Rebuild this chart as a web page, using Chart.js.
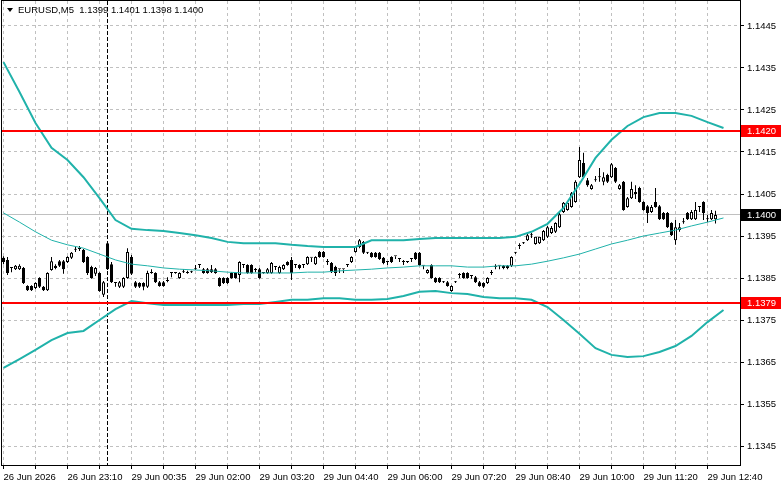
<!DOCTYPE html>
<html>
<head>
<meta charset="utf-8">
<script src="https://cdn.jsdelivr.net/npm/chart.js@4.4.1/dist/chart.umd.min.js"></script>
<style>
  html, body { margin: 0; padding: 0; background: #fff; }
  canvas { display: block; }
</style>
</head>
<body>
<canvas id="chart" width="781" height="489"></canvas>
<script>
// EURUSD M5 candles, one per bar: [open, high, low, close]
const candles = [
  [1.13898, 1.13902, 1.13883, 1.13888], [1.13893, 1.13900, 1.13857, 1.13862], [1.13874, 1.13876, 1.13864, 1.13874], [1.13871, 1.13881, 1.13869, 1.13879],
  [1.13871, 1.13883, 1.13869, 1.13879], [1.13874, 1.13876, 1.13836, 1.13838], [1.13831, 1.13833, 1.13819, 1.13821], [1.13831, 1.13833, 1.13819, 1.13821],
  [1.13826, 1.13840, 1.13824, 1.13838], [1.13850, 1.13852, 1.13826, 1.13829], [1.13829, 1.13831, 1.13819, 1.13821], [1.13821, 1.13864, 1.13819, 1.13862],
  [1.13869, 1.13900, 1.13867, 1.13890], [1.13879, 1.13883, 1.13871, 1.13874], [1.13890, 1.13893, 1.13876, 1.13879], [1.13890, 1.13893, 1.13860, 1.13871],
  [1.13888, 1.13902, 1.13886, 1.13900], [1.13898, 1.13912, 1.13895, 1.13910], [1.13917, 1.13924, 1.13912, 1.13919], [1.13919, 1.13926, 1.13914, 1.13919],
  [1.13917, 1.13919, 1.13886, 1.13888], [1.13900, 1.13902, 1.13857, 1.13862], [1.13876, 1.13879, 1.13848, 1.13850], [1.13860, 1.13876, 1.13855, 1.13874],
  [1.13862, 1.13864, 1.13817, 1.13819], [1.13810, 1.13843, 1.13805, 1.13840], [1.13933, 1.13936, 1.13869, 1.13871], [1.13883, 1.13888, 1.13838, 1.13840],
  [1.13838, 1.13838, 1.13829, 1.13838], [1.13829, 1.13843, 1.13826, 1.13840], [1.13829, 1.13852, 1.13826, 1.13850], [1.13850, 1.13921, 1.13848, 1.13912],
  [1.13900, 1.13905, 1.13857, 1.13860], [1.13840, 1.13843, 1.13826, 1.13829], [1.13838, 1.13840, 1.13826, 1.13829], [1.13838, 1.13840, 1.13821, 1.13829],
  [1.13829, 1.13867, 1.13826, 1.13862], [1.13862, 1.13871, 1.13860, 1.13862], [1.13862, 1.13864, 1.13838, 1.13840], [1.13840, 1.13843, 1.13829, 1.13831],
  [1.13840, 1.13843, 1.13829, 1.13831], [1.13843, 1.13852, 1.13840, 1.13843], [1.13862, 1.13864, 1.13852, 1.13862], [1.13862, 1.13864, 1.13860, 1.13862],
  [1.13850, 1.13864, 1.13848, 1.13862], [1.13864, 1.13871, 1.13862, 1.13864], [1.13864, 1.13867, 1.13860, 1.13862], [1.13864, 1.13867, 1.13862, 1.13864],
  [1.13871, 1.13881, 1.13869, 1.13871], [1.13881, 1.13881, 1.13874, 1.13881], [1.13871, 1.13874, 1.13860, 1.13862], [1.13871, 1.13874, 1.13860, 1.13862],
  [1.13871, 1.13881, 1.13862, 1.13864], [1.13871, 1.13874, 1.13860, 1.13862], [1.13850, 1.13852, 1.13829, 1.13831], [1.13850, 1.13852, 1.13836, 1.13838],
  [1.13850, 1.13852, 1.13836, 1.13838], [1.13862, 1.13864, 1.13848, 1.13850], [1.13862, 1.13864, 1.13848, 1.13850], [1.13857, 1.13890, 1.13840, 1.13888],
  [1.13881, 1.13881, 1.13874, 1.13881], [1.13881, 1.13883, 1.13860, 1.13862], [1.13881, 1.13883, 1.13860, 1.13862], [1.13869, 1.13874, 1.13864, 1.13869],
  [1.13871, 1.13874, 1.13848, 1.13850], [1.13862, 1.13864, 1.13860, 1.13862], [1.13862, 1.13874, 1.13860, 1.13871], [1.13862, 1.13888, 1.13860, 1.13886],
  [1.13876, 1.13876, 1.13869, 1.13876], [1.13862, 1.13879, 1.13860, 1.13876], [1.13871, 1.13883, 1.13869, 1.13881], [1.13888, 1.13890, 1.13879, 1.13881],
  [1.13893, 1.13900, 1.13845, 1.13862], [1.13881, 1.13881, 1.13874, 1.13881], [1.13881, 1.13883, 1.13871, 1.13874], [1.13881, 1.13881, 1.13874, 1.13881],
  [1.13883, 1.13902, 1.13881, 1.13900], [1.13898, 1.13898, 1.13888, 1.13898], [1.13883, 1.13902, 1.13881, 1.13900], [1.13912, 1.13914, 1.13898, 1.13900],
  [1.13912, 1.13914, 1.13898, 1.13900], [1.13888, 1.13895, 1.13881, 1.13888], [1.13886, 1.13888, 1.13862, 1.13864], [1.13876, 1.13879, 1.13855, 1.13862],
  [1.13871, 1.13871, 1.13862, 1.13871], [1.13871, 1.13871, 1.13862, 1.13871], [1.13881, 1.13881, 1.13876, 1.13881], [1.13888, 1.13902, 1.13886, 1.13900],
  [1.13912, 1.13926, 1.13910, 1.13924], [1.13924, 1.13943, 1.13921, 1.13940], [1.13936, 1.13938, 1.13907, 1.13910], [1.13910, 1.13912, 1.13907, 1.13910],
  [1.13910, 1.13912, 1.13898, 1.13900], [1.13910, 1.13912, 1.13898, 1.13900], [1.13910, 1.13912, 1.13893, 1.13895], [1.13898, 1.13900, 1.13883, 1.13886],
  [1.13888, 1.13888, 1.13881, 1.13888], [1.13900, 1.13902, 1.13886, 1.13888], [1.13902, 1.13902, 1.13895, 1.13902], [1.13895, 1.13895, 1.13888, 1.13895],
  [1.13888, 1.13893, 1.13881, 1.13888], [1.13888, 1.13890, 1.13886, 1.13888], [1.13895, 1.13895, 1.13888, 1.13895], [1.13910, 1.13912, 1.13893, 1.13895],
  [1.13910, 1.13912, 1.13879, 1.13881], [1.13879, 1.13879, 1.13871, 1.13879], [1.13862, 1.13871, 1.13860, 1.13869], [1.13881, 1.13883, 1.13848, 1.13850],
  [1.13850, 1.13852, 1.13838, 1.13840], [1.13850, 1.13852, 1.13838, 1.13840], [1.13840, 1.13843, 1.13838, 1.13840], [1.13840, 1.13843, 1.13829, 1.13831],
  [1.13819, 1.13833, 1.13817, 1.13831], [1.13840, 1.13843, 1.13838, 1.13840], [1.13857, 1.13862, 1.13850, 1.13857], [1.13862, 1.13864, 1.13848, 1.13850],
  [1.13862, 1.13864, 1.13848, 1.13850], [1.13855, 1.13855, 1.13848, 1.13855], [1.13852, 1.13855, 1.13838, 1.13840], [1.13840, 1.13843, 1.13829, 1.13831],
  [1.13838, 1.13840, 1.13826, 1.13829], [1.13838, 1.13852, 1.13836, 1.13850], [1.13862, 1.13869, 1.13857, 1.13862], [1.13876, 1.13883, 1.13871, 1.13876],
  [1.13879, 1.13879, 1.13871, 1.13879], [1.13879, 1.13881, 1.13871, 1.13874], [1.13879, 1.13881, 1.13871, 1.13874], [1.13879, 1.13902, 1.13876, 1.13900],
  [1.13910, 1.13912, 1.13907, 1.13910], [1.13926, 1.13933, 1.13919, 1.13926], [1.13933, 1.13936, 1.13931, 1.13933], [1.13940, 1.13955, 1.13938, 1.13952],
  [1.13952, 1.13957, 1.13945, 1.13952], [1.13931, 1.13948, 1.13929, 1.13948], [1.13933, 1.13948, 1.13931, 1.13948], [1.13940, 1.13964, 1.13938, 1.13962],
  [1.13948, 1.13974, 1.13945, 1.13971], [1.13957, 1.13974, 1.13955, 1.13969], [1.13960, 1.13983, 1.13957, 1.13981], [1.13971, 1.14005, 1.13969, 1.14002],
  [1.14007, 1.14031, 1.14005, 1.14029], [1.14012, 1.14033, 1.14010, 1.14029], [1.14019, 1.14055, 1.14017, 1.14052], [1.14031, 1.14083, 1.14029, 1.14079],
  [1.14090, 1.14162, 1.14088, 1.14131], [1.14124, 1.14148, 1.14088, 1.14090], [1.14083, 1.14088, 1.14067, 1.14071], [1.14062, 1.14074, 1.14060, 1.14071],
  [1.14083, 1.14093, 1.14079, 1.14083], [1.14090, 1.14112, 1.14079, 1.14090], [1.14079, 1.14102, 1.14071, 1.14090], [1.14095, 1.14098, 1.14076, 1.14079],
  [1.14090, 1.14124, 1.14088, 1.14121], [1.14112, 1.14114, 1.14076, 1.14079], [1.14062, 1.14074, 1.14060, 1.14071], [1.14079, 1.14081, 1.14010, 1.14012],
  [1.14019, 1.14043, 1.14017, 1.14040], [1.14040, 1.14079, 1.14038, 1.14062], [1.14055, 1.14071, 1.14038, 1.14050], [1.14064, 1.14067, 1.14029, 1.14031],
  [1.14031, 1.14033, 1.14010, 1.14012], [1.14021, 1.14024, 1.13981, 1.14005], [1.14007, 1.14024, 1.14005, 1.14019], [1.14031, 1.14064, 1.14017, 1.14019],
  [1.14021, 1.14024, 1.13988, 1.13990], [1.14005, 1.14007, 1.13988, 1.13990], [1.14005, 1.14007, 1.13969, 1.13971], [1.13981, 1.13983, 1.13950, 1.13952],
  [1.13940, 1.13988, 1.13929, 1.13971], [1.13964, 1.13981, 1.13960, 1.13971], [1.13983, 1.13993, 1.13979, 1.13983], [1.14005, 1.14007, 1.13988, 1.13990],
  [1.13990, 1.14012, 1.13988, 1.14007], [1.13990, 1.14031, 1.13988, 1.14012], [1.14019, 1.14019, 1.14007, 1.14019], [1.14031, 1.14033, 1.13988, 1.14005],
  [1.13990, 1.14000, 1.13983, 1.13990], [1.13990, 1.14012, 1.13988, 1.14005], [1.1399, 1.1401, 1.1398, 1.1400]
];

// Bollinger Bands, read every 4th bar
const bandBars = [0, 4, 8, 12, 16, 20, 24, 28, 32, 36, 40, 44, 48, 52, 56, 60, 64, 68, 72, 76, 80, 84, 88,
  92, 96, 100, 104, 108, 112, 116, 120, 124, 128, 132, 136, 140, 144, 148, 152, 156, 160, 164, 168, 172, 176, 180];
const upperBand = [1.14364, 1.14293, 1.14219, 1.14160, 1.14131, 1.14090, 1.14040, 1.13988, 1.13967, 1.13964, 1.13962, 1.13957,
  1.13952, 1.13945, 1.13936, 1.13933, 1.13933, 1.13933, 1.13929, 1.13926, 1.13924, 1.13924, 1.13924, 1.13940, 1.13940, 1.13940,
  1.13943, 1.13945, 1.13945, 1.13945, 1.13945, 1.13945, 1.13948, 1.13960, 1.13979, 1.14017, 1.14074, 1.14136, 1.14179, 1.14212,
  1.14233, 1.14243, 1.14243, 1.14236, 1.14221, 1.14207];
const middleBand = [1.14005, 1.13983, 1.13960, 1.13940, 1.13929, 1.13921, 1.13907, 1.13893, 1.13883, 1.13879, 1.13874, 1.13871,
  1.13869, 1.13867, 1.13864, 1.13862, 1.13862, 1.13862, 1.13862, 1.13864, 1.13864, 1.13867, 1.13869, 1.13871, 1.13874, 1.13876,
  1.13879, 1.13879, 1.13879, 1.13876, 1.13876, 1.13879, 1.13879, 1.13883, 1.13890, 1.13898, 1.13907, 1.13919, 1.13931, 1.13940,
  1.13950, 1.13957, 1.13964, 1.13974, 1.13983, 1.13993];
const lowerBand = [1.13636, 1.13657, 1.13679, 1.13702, 1.13719, 1.13724, 1.13750, 1.13776, 1.13795, 1.13790, 1.13786, 1.13786,
  1.13786, 1.13786, 1.13786, 1.13788, 1.13788, 1.13793, 1.13798, 1.13798, 1.13802, 1.13802, 1.13798, 1.13798, 1.13800, 1.13807,
  1.13817, 1.13819, 1.13814, 1.13812, 1.13805, 1.13802, 1.13802, 1.13798, 1.13781, 1.13750, 1.13717, 1.13683, 1.13667, 1.13662,
  1.13664, 1.13674, 1.13688, 1.13712, 1.13745, 1.13774];

const priceTicks = [1.1345, 1.1355, 1.1365, 1.1375, 1.1385, 1.1395, 1.1405, 1.1415, 1.1425, 1.1435, 1.1445];
const timeLabels = ['26 Jun 2026', '26 Jun 23:10', '29 Jun 00:35', '29 Jun 02:00', '29 Jun 03:20', '29 Jun 04:40',
  '29 Jun 06:00', '29 Jun 07:20', '29 Jun 08:40', '29 Jun 10:00', '29 Jun 11:20', '29 Jun 12:40'];
const levels = [1.1420, 1.1379];
const lastPrice = 1.1400;
const separatorBar = 26;
const title = 'EURUSD,M5  1.1399 1.1401 1.1398 1.1400';

const TEAL = '#20b2aa';
const FAMILY = '"Liberation Sans", Arial, sans-serif';
const FONT = '9.5px ' + FAMILY;

const bodies = candles.map(function (k, i) { return { x: i, y: [k[0], k[3]] }; });
const wicks = candles.map(function (k, i) { return { x: i, y: [k[2], k[1]] }; });
const bodyColors = candles.map(function (k) { return k[3] > k[0] ? '#ffffff' : '#000000'; });

function band(values) {
  return bandBars.map(function (b, i) { return { x: b, y: values[i] }; });
}

const overlay = {
  id: 'overlay',
  beforeDatasetsDraw(chart) {
    const { ctx, chartArea: a, scales: { x, y } } = chart;
    ctx.save();
    // bid line
    ctx.fillStyle = '#c0c0c0';
    ctx.fillRect(a.left, Math.round(y.getPixelForValue(lastPrice)) - 1, a.right - a.left, 1);
    // period separator
    const sx = Math.floor(x.getPixelForValue(separatorBar)) + 0.5;
    ctx.strokeStyle = '#000';
    ctx.lineWidth = 1;
    ctx.setLineDash([4, 2]);
    ctx.beginPath();
    ctx.moveTo(sx, a.top);
    ctx.lineTo(sx, a.bottom);
    ctx.stroke();
    ctx.restore();
  },
  afterDatasetsDraw(chart) {
    const { ctx, chartArea: a, scales: { y } } = chart;
    ctx.save();
    ctx.fillStyle = '#ff0000';
    levels.forEach(function (v) {
      ctx.fillRect(a.left, Math.round(y.getPixelForValue(v)) - 1, a.right - a.left, 2);
    });
    ctx.restore();
  },
  afterDraw(chart) {
    const { ctx, chartArea: a, scales: { y } } = chart;
    ctx.save();
    // frame
    ctx.strokeStyle = '#000';
    ctx.lineWidth = 1;
    ctx.strokeRect(a.left - 0.5, a.top - 0.5, a.right - a.left + 1, a.bottom - a.top + 1);
    // price tags
    ctx.font = FONT;
    ctx.textBaseline = 'middle';
    const tag = function (v, bg) {
      const py = Math.round(y.getPixelForValue(v));
      ctx.fillStyle = bg;
      ctx.fillRect(a.right + 1, py - 6, 40, 12);
      ctx.fillStyle = '#fff';
      ctx.fillText(v.toFixed(4), a.right + 7, py);
    };
    levels.forEach(function (v) { tag(v, '#ff0000'); });
    tag(lastPrice, '#000000');
    // title
    ctx.fillStyle = '#000';
    ctx.beginPath();
    ctx.moveTo(7, 8);
    ctx.lineTo(13, 8);
    ctx.lineTo(10, 12);
    ctx.closePath();
    ctx.fill();
    ctx.fillText(title, 18, 10);
    ctx.restore();
  }
};

new Chart(document.getElementById('chart'), {
  type: 'bar',
  data: {
    datasets: [
      { type: 'line', data: band(upperBand), borderColor: TEAL, borderWidth: 2, pointRadius: 0, tension: 0, fill: false, order: 0 },
      { type: 'line', data: band(middleBand), borderColor: TEAL, borderWidth: 1, pointRadius: 0, tension: 0, fill: false, order: 0 },
      { type: 'line', data: band(lowerBand), borderColor: TEAL, borderWidth: 2, pointRadius: 0, tension: 0, fill: false, order: 0 },
      { data: bodies, backgroundColor: bodyColors, borderColor: '#000', borderWidth: 1, borderSkipped: false,
        barThickness: 3, minBarLength: 1, grouped: false, inflateAmount: 0, order: 1 },
      { data: wicks, backgroundColor: '#000', borderWidth: 0, barThickness: 1, minBarLength: 1,
        grouped: false, inflateAmount: 0, order: 2 }
    ]
  },
  options: {
    responsive: false,
    animation: false,
    devicePixelRatio: 1,
    layout: { padding: { left: 2, top: 1, right: 0, bottom: 0 } },
    plugins: { legend: { display: false }, tooltip: { enabled: false } },
    scales: {
      x: {
        type: 'linear',
        min: -0.375,
        max: 184.125,
        offset: false,
        grid: { offset: false, color: '#c0c0c0', tickLength: 4, tickColor: '#000' },
        border: { display: false, dash: [3, 3] },
        afterBuildTicks: function (s) {
          const t = [];
          for (let v = 0; v <= 176; v += 8) t.push({ value: v });
          s.ticks = t;
        },
        afterFit: function (s) { s.height = 24; s.paddingLeft = 0; s.paddingRight = 0; },
        ticks: {
          autoSkip: false, maxRotation: 0, minRotation: 0, align: 'start', padding: 3, color: '#000',
          font: { family: FAMILY, size: 9.5 },
          callback: function (v) { return v % 16 === 0 ? timeLabels[v / 16] : ''; }
        }
      },
      y: {
        position: 'right',
        min: 1.134048,
        max: 1.145095,
        grid: { color: '#c0c0c0', tickLength: 4, tickColor: '#000' },
        border: { display: false, dash: [3, 3] },
        afterBuildTicks: function (s) { s.ticks = priceTicks.map(function (v) { return { value: v }; }); },
        afterFit: function (s) { s.width = 41; s.paddingTop = 0; s.paddingBottom = 0; },
        ticks: {
          padding: 3, color: '#000',
          font: { family: FAMILY, size: 9.5 },
          callback: function (v) { return v.toFixed(4); }
        }
      }
    }
  },
  plugins: [overlay]
});
</script>
</body>
</html>
